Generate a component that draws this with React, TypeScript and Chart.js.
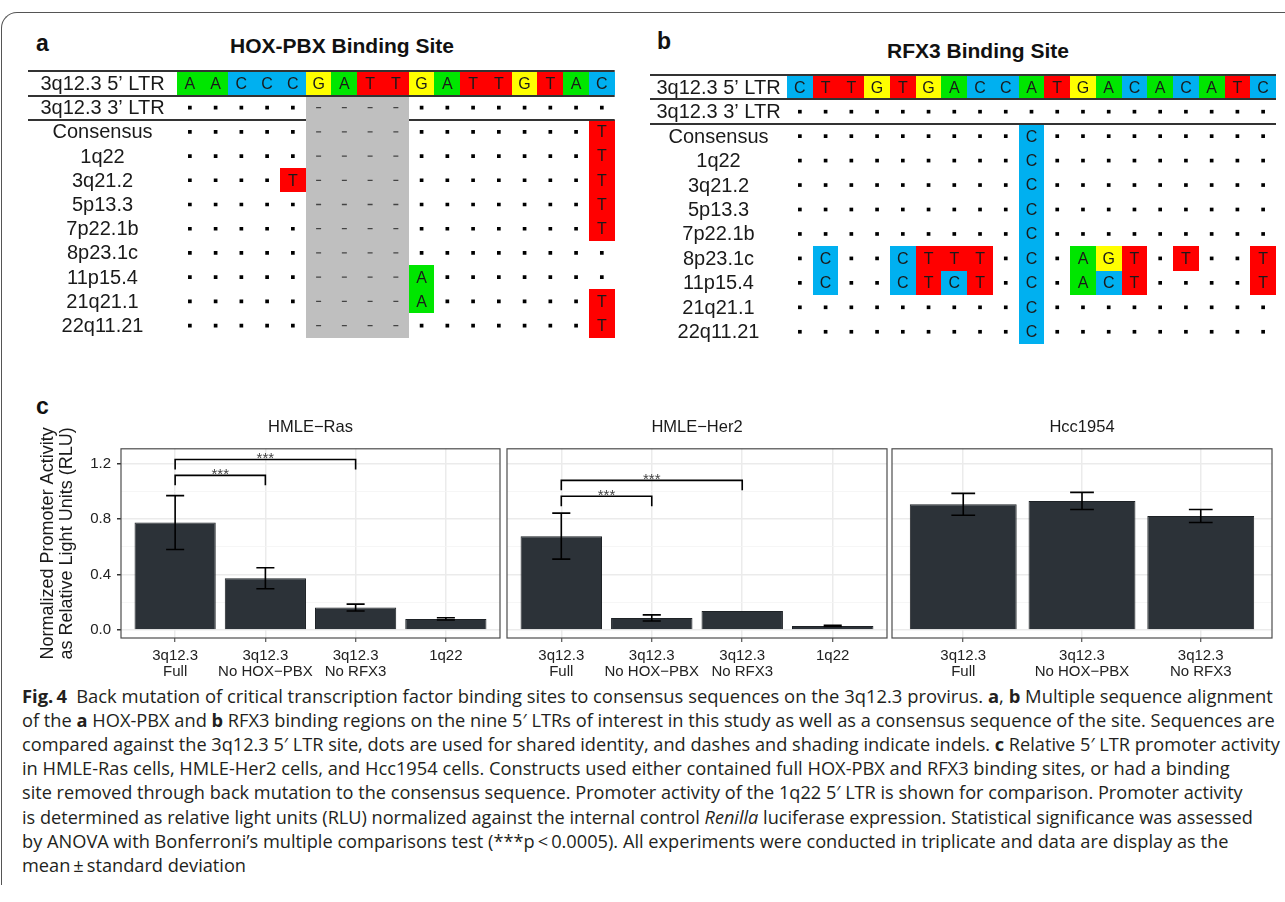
import React, { useEffect, useLayoutEffect, useRef } from 'react';
import Chart from 'chart.js/auto';

// ---------------- Panel a / b : sequence alignments ----------------
const hoxReference = 'AACCCGATTGATTGTAC';
const rfxReference = 'CTTGTGACCATGACACATC';
const alignmentRowLabels = [
  '3q12.3 5’ LTR', '3q12.3 3’ LTR', 'Consensus', '1q22', '3q21.2', '5p13.3',
  '7p22.1b', '8p23.1c', '11p15.4', '21q21.1', '22q11.21',
];
// '.' identity, '-' indel, letter = substitution (rows after the 5' LTR reference)
const hoxRows = [
  '.....----........',
  '.....----.......T',
  '.....----.......T',
  '....T----.......T',
  '.....----.......T',
  '.....----.......T',
  '.....----........',
  '.....----A.......',
  '.....----A......T',
  '.....----.......T',
];
const rfxRows = [
  '...................',
  '.........C.........',
  '.........C.........',
  '.........C.........',
  '.........C.........',
  '.........C.........',
  '.C..CTTT.C.AGT.T..T',
  '.C..CTCT.C.ACT....T',
  '.........C.........',
  '.........C.........',
];
const baseColors: Record<string, string> = { A: '#00e600', C: '#00b0f0', G: '#ffff00', T: '#ff0000' };

// ---------------- Panel c : promoter activity ----------------
const constructTicks = [['3q12.3', 'Full'], ['3q12.3', 'No HOX−PBX'], ['3q12.3', 'No RFX3'], ['1q22']];
const rasMeans = [0.776, 0.374, 0.162, 0.08];
const rasSd = [0.195, 0.076, 0.025, 0.008];
const her2Means = [0.678, 0.087, 0.137, 0.029];
const her2Sd = [0.166, 0.022, 0, 0.004];
const hccMeans = [0.908, 0.932, 0.823];
const hccSd = [0.079, 0.062, 0.047];
const rasSignif = [[0, 1, 1.117], [0, 2, 1.232]];
const her2Signif = [[0, 1, 0.966], [0, 2, 1.081]];
const yMajorTicks = [0, 0.4, 0.8, 1.2];
const yMinorTicks = [0.2, 0.6, 1.0];
const yRange = [-0.058, 1.309];

const FONT = 'Liberation Sans';

function alignmentConfig(reference: string, rows: string[], labelWidth: number): any {
  const nCols = reference.length;
  const nRows = rows.length + 1;
  const dots: any[] = [];
  const dashes: any[] = [];
  rows.forEach((seq, i) =>
    seq.split('').forEach((ch, c) => {
      if (ch === '.') dots.push({ x: c + 0.5, y: i + 1.5 });
      else if (ch === '-') dashes.push({ x: c + 0.5, y: i + 1.5 });
    })
  );
  const plugin = {
    id: 'alignmentGrid',
    beforeDatasetsDraw(chart: any) {
      const { ctx, chartArea } = chart;
      const xs = chart.scales.x;
      const ys = chart.scales.y;
      const px = (v: number) => Math.round(xs.getPixelForValue(v));
      const py = (v: number) => Math.round(ys.getPixelForValue(v));
      ctx.save();
      reference.split('').forEach((b, c) => {
        ctx.fillStyle = baseColors[b];
        ctx.fillRect(px(c), py(0) + 1, px(c + 1) - px(c), py(1) - py(0) - 2);
      });
      rows.forEach((seq, i) =>
        seq.split('').forEach((ch, c) => {
          if (ch === '.' || ch === '-') return;
          ctx.fillStyle = baseColors[ch];
          ctx.fillRect(px(c), py(i + 1), px(c + 1) - px(c), py(i + 2) - py(i + 1));
        })
      );
      ctx.strokeStyle = '#333';
      ctx.lineWidth = 2;
      [0, 1, 2].forEach((r) => {
        ctx.beginPath();
        ctx.moveTo(0, py(r));
        ctx.lineTo(chartArea.right, py(r));
        ctx.stroke();
      });
      ctx.fillStyle = '#bfbfbf';
      rows.forEach((seq, i) =>
        seq.split('').forEach((ch, c) => {
          if (ch !== '-') return;
          const top = py(i + 1) + (i === 0 ? 1 : 0);
          ctx.fillRect(px(c), top, px(c + 1) - px(c), py(i + 2) - top);
        })
      );
      ctx.fillStyle = '#1a1a1a';
      ctx.font = `16px "${FONT}"`;
      ctx.textAlign = 'center';
      ctx.textBaseline = 'middle';
      reference.split('').forEach((b, c) => {
        ctx.fillText(b, xs.getPixelForValue(c + 0.5), ys.getPixelForValue(0.5) + 1);
      });
      rows.forEach((seq, i) =>
        seq.split('').forEach((ch, c) => {
          if (ch === '.' || ch === '-') return;
          ctx.fillText(ch, xs.getPixelForValue(c + 0.5), ys.getPixelForValue(i + 1.5) + 1);
        })
      );
      ctx.font = `20px "${FONT}"`;
      alignmentRowLabels.forEach((lab, r) => {
        ctx.fillText(lab, chartArea.left / 2, ys.getPixelForValue(r + 0.5) + 1);
      });
      ctx.restore();
    },
  };
  return {
    type: 'scatter',
    data: {
      datasets: [
        { data: dots, pointStyle: 'rect', pointRadius: 2.6, pointBackgroundColor: '#000', pointBorderWidth: 0 },
        { data: dashes, pointStyle: 'line', pointRadius: 2.5, pointBorderColor: '#444', pointBorderWidth: 1.3 },
      ],
    },
    options: {
      responsive: false,
      animation: false,
      devicePixelRatio: 1,
      events: [],
      layout: { padding: { left: labelWidth, top: 1 } },
      scales: {
        x: { type: 'linear', min: 0, max: nCols, display: false },
        y: { type: 'linear', min: 0, max: nRows, reverse: true, display: false },
      },
      plugins: { legend: { display: false }, tooltip: { enabled: false } },
    },
    plugins: [plugin],
  };
}

function facetConfig(title: string, means: number[], sds: number[], signif: number[][], showY: boolean): any {
  const n = means.length;
  const isMajor = (v: number) => yMajorTicks.includes(v);
  const plugin = {
    id: 'facetExtras',
    afterDatasetsDraw(chart: any) {
      const { ctx, chartArea: ca } = chart;
      const xs = chart.scales.x;
      const ys = chart.scales.y;
      ctx.save();
      ctx.strokeStyle = '#000';
      ctx.lineWidth = 1.6;
      means.forEach((m, i) => {
        const sd = sds[i];
        if (!sd) return;
        const x = xs.getPixelForValue(i);
        const xl = xs.getPixelForValue(i - 0.1);
        const xr = xs.getPixelForValue(i + 0.1);
        const yh = ys.getPixelForValue(m + sd);
        const yl = ys.getPixelForValue(m - sd);
        ctx.beginPath();
        ctx.moveTo(x, yh); ctx.lineTo(x, yl);
        ctx.moveTo(xl, yh); ctx.lineTo(xr, yh);
        ctx.moveTo(xl, yl); ctx.lineTo(xr, yl);
        ctx.stroke();
      });
      signif.forEach(([a, b, yv]) => {
        const x1 = xs.getPixelForValue(a);
        const x2 = xs.getPixelForValue(b);
        const y = ys.getPixelForValue(yv);
        const yt = ys.getPixelForValue(yv - 0.072);
        ctx.strokeStyle = '#000';
        ctx.lineWidth = 1.6;
        ctx.beginPath();
        ctx.moveTo(x1, yt); ctx.lineTo(x1, y); ctx.lineTo(x2, y); ctx.lineTo(x2, yt);
        ctx.stroke();
        ctx.fillStyle = '#444';
        ctx.font = `15px "${FONT}"`;
        ctx.textAlign = 'center';
        ctx.textBaseline = 'alphabetic';
        ctx.fillText('***', (x1 + x2) / 2, y + 4);
      });
      ctx.strokeStyle = '#4d4d4d';
      ctx.lineWidth = 1.2;
      ctx.strokeRect(ca.left, ca.top, ca.right - ca.left, ca.bottom - ca.top);
      ctx.restore();
    },
  };
  return {
    type: 'bar',
    data: {
      datasets: [
        {
          data: means.map((m, i) => ({ x: i, y: m })),
          backgroundColor: '#2c3238',
          borderColor: '#1e2226',
          borderWidth: 1,
          categoryPercentage: 0.9,
          barPercentage: 1,
        },
      ],
    },
    options: {
      responsive: false,
      animation: false,
      devicePixelRatio: 1,
      events: [],
      layout: { padding: { left: showY ? 0 : 2, right: 2 } },
      scales: {
        x: {
          type: 'linear',
          min: -0.6,
          max: n - 0.4,
          offset: false,
          afterBuildTicks: (s: any) => { s.ticks = means.map((_, i) => ({ value: i })); },
          afterFit: (s: any) => { s.height = 44; },
          grid: { offset: false, color: '#ebebeb', lineWidth: 1.5, drawTicks: true, tickLength: 4, tickColor: '#333', tickWidth: 1 },
          border: { display: false },
          ticks: {
            callback: (v: number) => constructTicks[v],
            font: { family: FONT, size: 15, lineHeight: 1.07 },
            color: '#222',
            padding: 6,
            maxRotation: 0,
            autoSkip: false,
          },
        },
        y: {
          type: 'linear',
          min: yRange[0],
          max: yRange[1],
          afterBuildTicks: (s: any) => {
            s.ticks = [...yMajorTicks, ...yMinorTicks].sort((a, b) => a - b).map((v) => ({ value: v }));
          },
          afterFit: (s: any) => { s.width = showY ? 95 : 0; },
          grid: {
            color: (c: any) => (isMajor(c.tick.value) ? '#ebebeb' : '#f4f4f4'),
            lineWidth: (c: any) => (isMajor(c.tick.value) ? 1.5 : 0.8),
            drawTicks: showY,
            tickLength: 4,
            tickColor: (c: any) => (isMajor(c.tick.value) ? '#333' : 'rgba(0,0,0,0)'),
          },
          border: { display: false },
          ticks: {
            display: showY,
            callback: (v: number) => (isMajor(v) ? v.toFixed(1) : ''),
            font: { family: FONT, size: 15 },
            color: '#222',
            padding: 6,
          },
          title: {
            display: showY,
            text: ['Normalized Promoter Activity', 'as Relative Light Units (RLU)'],
            font: { family: FONT, size: 18, lineHeight: 1.05 },
            color: '#1a1a1a',
            padding: { top: 12.5, bottom: 0 },
          },
        },
      },
      plugins: {
        legend: { display: false },
        tooltip: { enabled: false },
        title: {
          display: true,
          text: title,
          fullSize: false,
          font: { family: FONT, size: 16.5, weight: 'normal' },
          color: '#1a1a1a',
          padding: { top: 6, bottom: 11 },
        },
      },
    },
    plugins: [plugin],
  };
}

function ChartCanvas(props: { left: number; top: number; width: number; height: number; make: () => any }) {
  const ref = useRef<HTMLCanvasElement>(null);
  useEffect(() => {
    const chart = new Chart(ref.current as HTMLCanvasElement, props.make());
    return () => chart.destroy();
  }, []);
  return (
    <canvas
      ref={ref}
      width={props.width}
      height={props.height}
      style={{ position: 'absolute', left: props.left, top: props.top, width: props.width, height: props.height }}
    />
  );
}

const captionLines: React.ReactNode[] = [
  <><b>Fig.{'\u2009'}4</b>{'\u2002'}Back mutation of critical transcription factor binding sites to consensus sequences on the 3q12.3 provirus. <b>a</b>, <b>b</b> Multiple sequence alignment</>,
  <>of the <b>a</b> HOX-PBX and <b>b</b> RFX3 binding regions on the nine 5′ LTRs of interest in this study as well as a consensus sequence of the site. Sequences are</>,
  <>compared against the 3q12.3 5′ LTR site, dots are used for shared identity, and dashes and shading indicate indels. <b>c</b> Relative 5′ LTR promoter activity</>,
  <>in HMLE-Ras cells, HMLE-Her2 cells, and Hcc1954 cells. Constructs used either contained full HOX-PBX and RFX3 binding sites, or had a binding</>,
  <>site removed through back mutation to the consensus sequence. Promoter activity of the 1q22 5′ LTR is shown for comparison. Promoter activity</>,
  <>is determined as relative light units (RLU) normalized against the internal control <i>Renilla</i> luciferase expression. Statistical significance was assessed</>,
  <>by ANOVA with Bonferroni’s multiple comparisons test (***p{'\u2009'}&lt;{'\u2009'}0.0005). All experiments were conducted in triplicate and data are display as the</>,
  <>mean{'\u2009'}±{'\u2009'}standard deviation</>,
];
// target pixel widths for lines 1-7; the last line uses the mean scale of the ragged lines
const captionWidths = [1251, 1253, 1258, 1208, 1221, 1231, 1206];

function Caption() {
  const refs = useRef<(HTMLDivElement | null)[]>([]);
  useLayoutEffect(() => {
    const scales: number[] = [];
    refs.current.forEach((el, i) => {
      if (!el || i >= captionWidths.length) return;
      const w = el.scrollWidth;
      const s = w > 0 ? captionWidths[i] / w : 1;
      scales.push(s);
      el.style.transform = `scaleX(${s})`;
    });
    const ragged = scales.slice(3, 7);
    const mean = ragged.reduce((a, b) => a + b, 0) / (ragged.length || 1);
    const last = refs.current[captionLines.length - 1];
    if (last) last.style.transform = `scaleX(${mean})`;
  }, []);
  return (
    <>
      {captionLines.map((line, i) => (
        <div
          key={i}
          ref={(el) => { refs.current[i] = el; }}
          style={{
            position: 'absolute',
            left: 22,
            top: 684 + i * 24.1,
            whiteSpace: 'nowrap',
            display: 'inline-block',
            transformOrigin: '0 0',
            fontFamily: '"Open Sans", sans-serif',
            fontSize: 18.5,
            lineHeight: '24px',
            color: '#231f20',
          }}
        >
          {line}
        </div>
      ))}
    </>
  );
}

const labelStyle: React.CSSProperties = {
  position: 'absolute',
  fontFamily: `"${FONT}", Arial, sans-serif`,
  fontWeight: 'bold',
  color: '#111',
  whiteSpace: 'nowrap',
};

export default function App() {
  return (
    <div style={{ position: 'absolute', left: 0, top: 0, width: 1285, height: 902, background: '#fff', overflow: 'hidden' }}>
      <div
        style={{
          position: 'absolute', left: 1, top: 12, width: 1320, height: 872,
          borderTop: '1.5px solid #555', borderLeft: '1.5px solid #555', borderTopLeftRadius: 16,
        }}
      />
      <div style={{ ...labelStyle, left: 36, top: 31.5, fontSize: 23, lineHeight: '23px' }}>a</div>
      <div style={{ ...labelStyle, left: 657, top: 30, fontSize: 23, lineHeight: '23px' }}>b</div>
      <div style={{ ...labelStyle, left: 36, top: 394.5, fontSize: 23, lineHeight: '23px' }}>c</div>
      <div style={{ ...labelStyle, left: 342, top: 35.2, fontSize: 21, lineHeight: '21px', transform: 'translateX(-50%)' }}>
        HOX-PBX Binding Site
      </div>
      <div style={{ ...labelStyle, left: 978, top: 40.2, fontSize: 21, lineHeight: '21px', transform: 'translateX(-50%)' }}>
        RFX3 Binding Site
      </div>

      <ChartCanvas left={28} top={66} width={592} height={277} make={() => alignmentConfig(hoxReference, hoxRows, 149)} />
      <ChartCanvas left={650} top={71} width={630} height={277} make={() => alignmentConfig(rfxReference, rfxRows, 137)} />

      <ChartCanvas left={26} top={412} width={476} height={270} make={() => facetConfig('HMLE−Ras', rasMeans, rasSd, rasSignif, true)} />
      <ChartCanvas left={505} top={412} width={384} height={270} make={() => facetConfig('HMLE−Her2', her2Means, her2Sd, her2Signif, false)} />
      <ChartCanvas left={890} top={412} width={384} height={270} make={() => facetConfig('Hcc1954', hccMeans, hccSd, [], false)} />

      <Caption />
    </div>
  );
}
